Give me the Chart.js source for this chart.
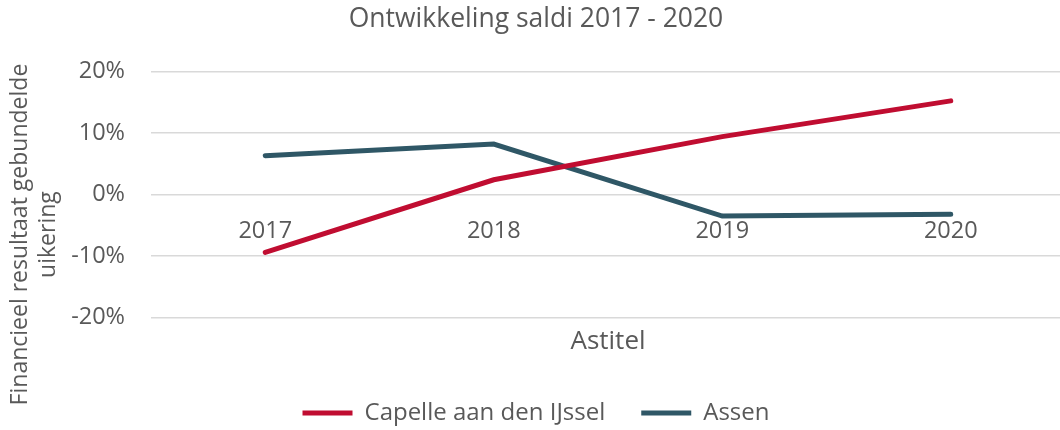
<!DOCTYPE html>
<html>
<head>
<meta charset="utf-8">
<script src="https://cdn.jsdelivr.net/npm/chart.js@4/dist/chart.umd.min.js"></script>
<style>
  html, body { margin: 0; padding: 0; background: #fff; overflow: hidden; }
  #wrap { width: 1065px; height: 435px; }
</style>
</head>
<body>
<div id="wrap"><canvas id="chart"></canvas></div>
<script>
const years = ['2017', '2018', '2019', '2020'];
const capelle = [-9.4, 2.4, 9.4, 15.2];
const assen = [6.3, 8.2, -3.5, -3.2];
const yTicks = [-20, -10, 0, 10, 20];
const yTitle = ['Financieel resultaat gebundelde', 'uikering'];

const red = '#C00D31';
const teal = '#2F5766';
const textColor = '#595959';
const gridColor = '#D9D9D9';
const font = 'Open Sans';

Chart.defaults.font.family = font;
Chart.defaults.color = textColor;

// Excel puts the y title a bit below the middle of the axis, so draw it ourselves
const yTitlePlugin = {
  id: 'yTitle',
  afterDraw(chart) {
    const c = chart.ctx;
    const area = chart.chartArea;
    c.save();
    c.translate(20.5, (area.top + area.bottom) / 2 + 40);
    c.rotate(-Math.PI / 2);
    c.font = '23px "' + font + '"';
    c.fillStyle = textColor;
    c.textAlign = 'center';
    c.textBaseline = 'middle';
    yTitle.forEach((line, i) => c.fillText(line, 0, i * 27.5));
    c.restore();
  }
};

const ctx = document.getElementById('chart').getContext('2d');
new Chart(ctx, {
  type: 'line',
  data: {
    labels: years,
    datasets: [{
      label: 'Capelle aan den IJssel',
      data: capelle,
      borderColor: red,
      backgroundColor: red,
      borderWidth: 5,
      borderCapStyle: 'round',
      pointRadius: 0,
      tension: 0
    }, {
      label: 'Assen',
      data: assen,
      borderColor: teal,
      backgroundColor: teal,
      borderWidth: 5,
      borderCapStyle: 'round',
      pointRadius: 0,
      tension: 0
    }]
  },
  plugins: [yTitlePlugin],
  options: {
    responsive: true,
    maintainAspectRatio: false,
    animation: false,
    layout: { padding: { top: 0, right: 0, bottom: 0, left: 7 } },
    plugins: {
      title: {
        display: true,
        text: 'Ontwikkeling saldi 2017 - 2020',
        font: { size: 26.5, weight: 'normal' },
        color: textColor,
        padding: { top: 4, bottom: 35.5 }
      },
      legend: {
        position: 'bottom',
        labels: {
          usePointStyle: true,
          pointStyle: 'line',
          pointStyleWidth: 50,
          font: { size: 24 },
          color: textColor,
          padding: 36
        }
      },
      tooltip: { enabled: false }
    },
    scales: {
      x: {
        offset: true,
        position: { y: 0 },
        grid: { display: false },
        border: { display: false },
        ticks: { font: { size: 23.5 }, color: textColor, padding: 15 }
      },
      x2: {
        type: 'category',
        labels: years,
        offset: true,
        position: 'bottom',
        grid: { display: false, drawTicks: false },
        border: { display: false },
        ticks: { display: false },
        title: {
          display: true,
          text: 'Astitel',
          font: { size: 26 },
          color: textColor,
          padding: { top: 8, bottom: 8 }
        }
      },
      y: {
        min: -20,
        max: 20,
        afterBuildTicks: (axis) => { axis.ticks = yTicks.map(v => ({ value: v })); },
        afterFit: (axis) => { axis.width = 144; },
        grid: { color: gridColor, lineWidth: 1.5, drawTicks: false },
        border: { display: false },
        ticks: {
          font: { size: 23.5 },
          color: textColor,
          padding: 26,
          callback: (v) => v + '%'
        },
        title: { display: false }
      }
    }
  }
});
</script>
</body>
</html>
